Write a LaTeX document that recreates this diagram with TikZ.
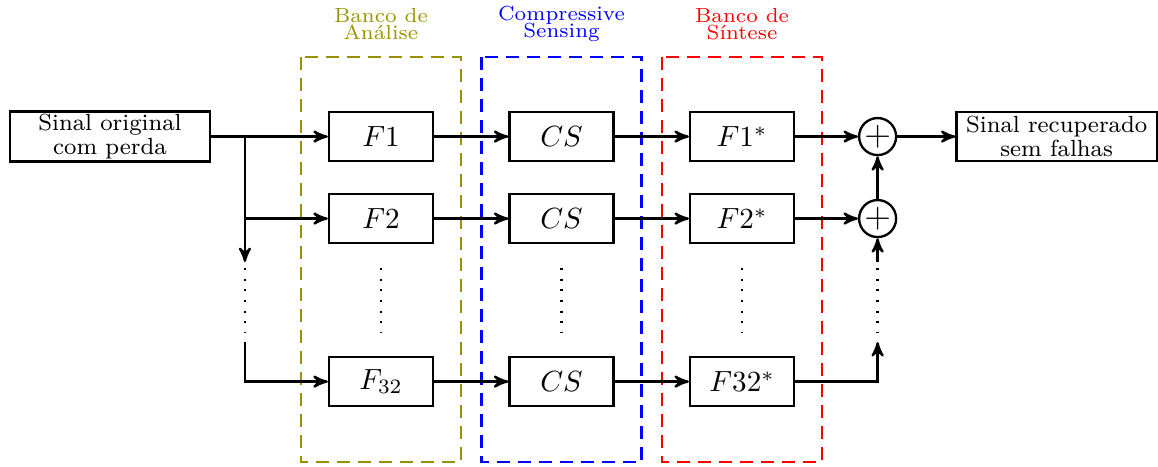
\documentclass[tikz,border=0pt]{standalone}
\usepackage{amsmath}
\usepackage{fontspec}
\usetikzlibrary{arrows,positioning}
\definecolor{bancoolive}{rgb}{0.6,0.57,0}

\begin{document}
\begin{tikzpicture}[->,>=stealth',thick,node distance=2.175cm,
                    bloco/.style={draw,rectangle,minimum width=1.253cm,minimum height=0.59cm,inner sep=2pt},
                    sinal/.style={draw,rectangle,minimum width=2.41cm,minimum height=0.59cm,inner sep=1pt,
                                  align=center,font=\footnotesize},
                    soma/.style={draw,circle,inner sep=0pt,minimum size=0.446cm,font=\large},
                    banco/.style={-,thick,dash pattern=on 4.5pt off 2.7pt},
                    titulo/.style={align=center,font=\scriptsize\addfontfeature{LetterSpace=12}},
                    pontos/.style={-,thick,dash pattern=on 0.7pt off 2.95pt}]
                \useasboundingbox (-4.59,1.645) rectangle (9.361,-3.97);
                % blocos de cada ramo
                \node[bloco] (f1) {$F1$};
                \node[bloco] [right of=f1] (cs1) {$CS$};
                \node[bloco] [right of=cs1] (fs1) {$F1^*$};
                \node[bloco] [below of=f1, node distance=0.988cm] (f2) {$F2$};
                \node[bloco] [right of=f2] (cs2) {$CS$};
                \node[bloco] [right of=cs2] (fs2) {$F2^*$};
                \node[bloco] [below of=f1, node distance=2.952cm] (f32) {$F_{32}$};
                \node[bloco] [right of=f32] (cs32) {$CS$};
                \node[bloco] [right of=cs32] (fs32) {$F32^*$};
                % entrada, somadores e saida
                \node[sinal] [left of=f1, node distance=3.265cm] (entrada) {Sinal original\\[-1.5pt]com perda};
                \node[soma] [right of=fs1, node distance=1.633cm] (s1) {$+$};
                \node[soma] [right of=fs2, node distance=1.633cm] (s2) {$+$};
                \node[sinal] [right of=s1, node distance=2.157cm] (saida) {Sinal recuperado\\[-1.5pt]sem falhas};
                % pontos auxiliares
                \coordinate [left of=f1, node distance=1.639cm] (ramo);
                \coordinate (dtopo) at (0,-1.584);
                \coordinate (dbase) at (0,-2.355);
                \coordinate (pe1) at (ramo |- 0,-1.512);
                \coordinate (pe2) at (ramo |- 0,-2.476);
                \coordinate (pd1) at (s2 |- pe1);
                \coordinate (pd2) at (s2 |- pe2);
                % bancos tracejados
                \foreach \x/\cor/\txt in {0/bancoolive/{Banco de\\[-2.2pt]Análise},
                                          2.175/blue/{Compressive\\[-2.2pt]Sensing},
                                          4.35/red/{Banco de\\[-2.2pt]Síntese}}{
                  \draw[banco,\cor] (\x-0.964,0.958) rectangle (\x+0.964,-3.922);
                  \node[titulo,text=\cor] at (\x,1.355) {\txt};
                }
                \foreach \c in {ramo,f1,cs1,fs1,s1}
                  \draw[pontos] (\c |- dtopo) -- (\c |- dbase);
                \foreach \r in {1,2,32}
                  \path (f\r) edge (cs\r)
                        (cs\r) edge (fs\r);
                \path (entrada) edge (f1)
                (fs1) edge (s1)
                (fs2) edge (s2)
                (s2) edge (s1)
                (s1) edge (saida)
                (ramo) edge (pe1)
                (pd1) edge (s2);
                \draw (ramo) |- (f2);
                \draw (pe2) |- (f32);
                \draw (fs32) -| (pd2);
                \end{tikzpicture}
\end{document}
